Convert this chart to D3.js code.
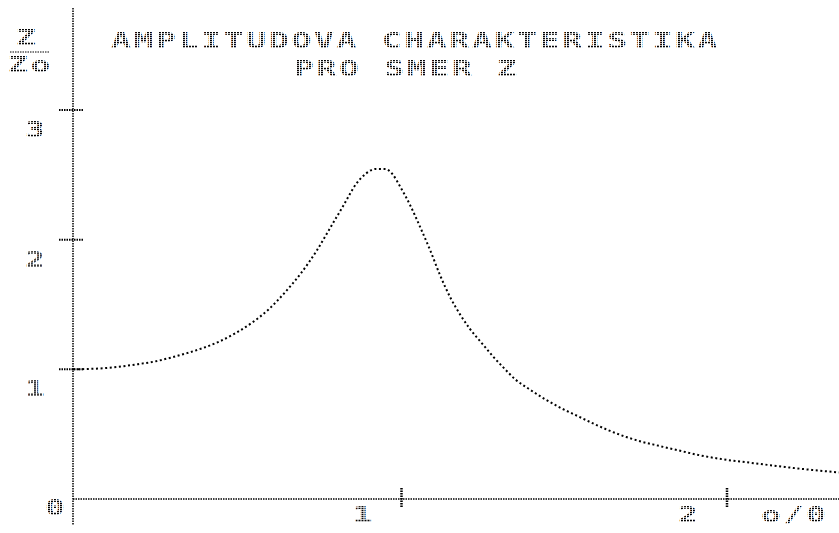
<!DOCTYPE html>
<html lang="cs">
<head>
    <meta charset="utf-8">
    <title>Amplitudova charakteristika</title>
    <script type="text/javascript" src="https://d3js.org/d3.v7.min.js"></script>
    <style>
        body { margin: 0; background: #fff; }
        svg { display: block; }
    </style>
</head>
<body>
    <div id="chart"></div>

    <script type="text/javascript">

        // ratio omega / omega0 and relative amplitude Z / Z0
        var omega = [0, 0.10, 0.20, 0.25, 0.30, 0.35, 0.40, 0.45, 0.50, 0.55, 0.60, 0.65, 0.70, 0.75, 0.79, 0.83, 0.87,
                     0.90, 0.93, 0.96, 0.98, 1.005, 1.035, 1.066, 1.097, 1.127, 1.16, 1.19, 1.22, 1.26, 1.29, 1.32, 1.36,
                     1.40, 1.45, 1.50, 1.55, 1.60, 1.65, 1.70, 1.75, 1.80, 1.86, 1.93, 2.00, 2.08, 2.16, 2.24, 2.353];
        var amplitude = [1.00, 1.01, 1.04, 1.06, 1.09, 1.125, 1.165, 1.215, 1.28, 1.36, 1.46, 1.59, 1.74, 1.92, 2.09, 2.26, 2.43,
                         2.51, 2.545, 2.545, 2.51, 2.41, 2.27, 2.10, 1.92, 1.73, 1.55, 1.42, 1.31, 1.19, 1.10, 1.02, 0.92,
                         0.85, 0.77, 0.70, 0.64, 0.58, 0.525, 0.478, 0.44, 0.41, 0.375, 0.335, 0.305, 0.28, 0.255, 0.232, 0.205];

        var xTicks = [1, 2];
        var yTicks = [1, 2, 3];
        var titleLines = ["AMPLITUDOVA CHARAKTERISTIKA", "PRO SMER Z"];
        var xLabel = "o/0";

        var width = 839, height = 533;

        var svg = d3.select("#chart").append("svg")
            .attr("width", width)
            .attr("height", height);

        // dot-matrix printer look for the text
        var pat = svg.append("defs").append("pattern")
            .attr("id", "dots")
            .attr("patternUnits", "userSpaceOnUse")
            .attr("width", 2)
            .attr("height", 2);
        pat.append("rect").attr("width", 1.3).attr("height", 1.3).attr("fill", "#000");

        var x = d3.scaleLinear().domain([0, 2]).range([73, 724]);
        var y = d3.scaleLinear().domain([0, 3]).range([499, 110]);

        var mono = "'DejaVu Sans Mono', 'Liberation Mono', monospace";

        // glyphs are stretched sideways like the wide printer characters
        function label(txt, px, py) {
            return svg.append("text")
                .attr("transform", "translate(" + px + "," + py + ") scale(1.5,1)")
                .attr("font-family", mono)
                .attr("font-size", 22)
                .attr("font-weight", "bold")
                .attr("letter-spacing", 1.8)
                .attr("fill", "url(#dots)")
                .text(txt);
        }

        // axes
        svg.append("line")
            .attr("x1", x(0)).attr("x2", x(0))
            .attr("y1", 8).attr("y2", 525)
            .attr("stroke", "#000").attr("stroke-width", 1.5)
            .attr("stroke-dasharray", "1.5 1");

        svg.append("line")
            .attr("x1", x(0)).attr("x2", width)
            .attr("y1", y(0)).attr("y2", y(0))
            .attr("stroke", "#000").attr("stroke-width", 1.5)
            .attr("stroke-dasharray", "1.5 1");

        // y ticks and labels
        svg.selectAll(".ytick")
            .data(yTicks)
            .enter().append("line")
            .attr("class", "ytick")
            .attr("x1", x(0) - 14).attr("x2", x(0) + 11)
            .attr("y1", function(d) { return y(d); })
            .attr("y2", function(d) { return y(d); })
            .attr("stroke", "#000").attr("stroke-width", 2)
            .attr("stroke-dasharray", "1.5 1");

        yTicks.forEach(function(d) {
            label(d, 25, y(d) + 27);
        });
        label("0", 45, 515);

        // x ticks and labels
        svg.selectAll(".xtick")
            .data(xTicks)
            .enter().append("line")
            .attr("class", "xtick")
            .attr("x1", function(d) { return x(d) + 3; })
            .attr("x2", function(d) { return x(d) + 3; })
            .attr("y1", y(0) - 11).attr("y2", y(0) + 9)
            .attr("stroke", "#000").attr("stroke-width", 2.5)
            .attr("stroke-dasharray", "1.5 1");

        xTicks.forEach(function(d) {
            label(d, x(d) - 46, 522);
        });
        label(xLabel, 761, 522);

        // Z / Zo axis label
        label("Z", 16, 45);
        svg.append("line")
            .attr("x1", 10).attr("x2", 50)
            .attr("y1", 52).attr("y2", 52)
            .attr("stroke", "#000").attr("stroke-width", 1.2)
            .attr("stroke-dasharray", "1.5 1");
        label("Zo", 8, 72);

        // title
        label(titleLines[0], 111, 48);
        label(titleLines[1], 294, 76);

        // the curve, drawn as printer dots
        var line = d3.line()
            .x(function(d) { return x(d[0]); })
            .y(function(d) { return y(d[1]); })
            .curve(d3.curveMonotoneX);

        svg.append("path")
            .datum(d3.zip(omega, amplitude))
            .attr("d", line)
            .attr("fill", "none")
            .attr("stroke", "#000")
            .attr("stroke-width", 2)
            .attr("stroke-dasharray", "2 2.6");

    </script>
</body>
</html>
